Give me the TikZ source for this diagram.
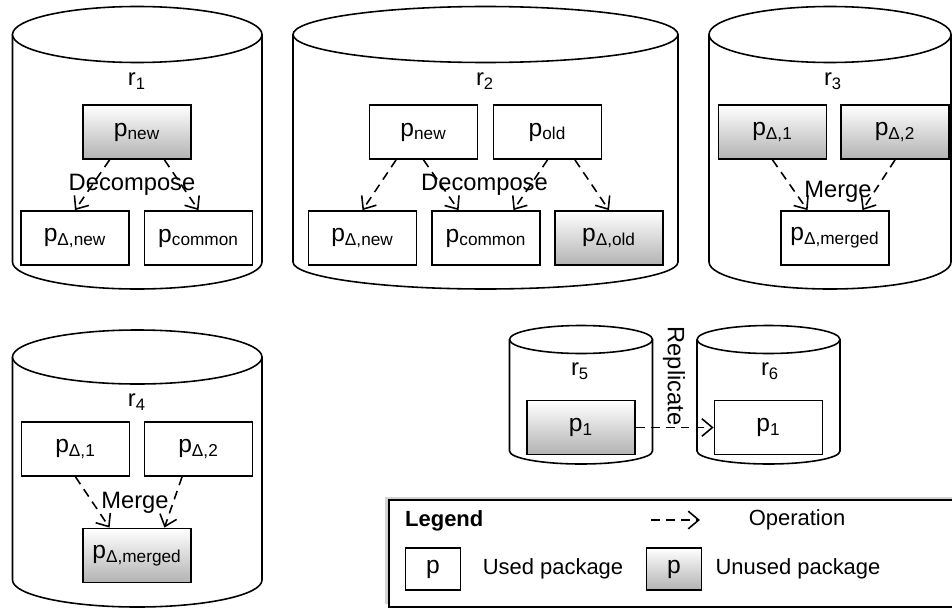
\documentclass[tikz,border=0pt]{standalone}
\usepackage{fontspec}
\setmainfont{Liberation Sans}
\usetikzlibrary{arrows.meta,calc,shadows}

\tikzset{
  repo/.style={draw, fill=white, line width=0.9pt},
  pkg/.style={draw, line width=1pt, minimum width=2.16cm, minimum height=1.08cm,
    inner sep=0pt, font=\fontsize{14}{16}\selectfont},
  used/.style={pkg, fill=white},
  unused/.style={pkg, top color=white, bottom color=black!30},
  keybox/.style={minimum width=1.1cm, minimum height=0.84cm},
  lbl/.style={font=\fontsize{13.5}{16}\selectfont},
  keytext/.style={font=\fontsize{12.5}{15}\selectfont},
  op/.style={draw, line width=0.9pt, dash pattern=on 5pt off 3.5pt,
    -{Straight Barb[length=6pt,width=10pt]}},
}

\begin{document}
\begin{tikzpicture}[x=0.02cm, y=-0.02cm]
    \useasboundingbox (0,0) rectangle (952,608);
    \clip (0,0) rectangle (952,608);

    % repositories
    \draw[repo] (12.5,34.5) -- (12.5,262) arc[start angle=180, end angle=0, x radius=124.75, y radius=27] -- (262,34.5);
    \draw[repo] (137.25,34.5) ellipse[x radius=124.75, y radius=28];
    \draw[repo] (293,34.5) -- (293,262) arc[start angle=180, end angle=0, x radius=192.5, y radius=27] -- (678,34.5);
    \draw[repo] (485.5,34.5) ellipse[x radius=192.5, y radius=28];
    \draw[repo] (709,34.5) -- (709,262) arc[start angle=180, end angle=0, x radius=121, y radius=27] -- (951,34.5);
    \draw[repo] (830,34.5) ellipse[x radius=121, y radius=28];
    \draw[repo] (12.5,357) -- (12.5,580) arc[start angle=180, end angle=0, x radius=124.75, y radius=27] -- (262,357);
    \draw[repo] (137.25,357) ellipse[x radius=124.75, y radius=27];
    \draw[repo] (509.5,339.5) -- (509.5,451) arc[start angle=180, end angle=0, x radius=71.5, y radius=13] -- (652.5,339.5);
    \draw[repo] (581,339.5) ellipse[x radius=71.5, y radius=14];
    \draw[repo] (697,339.5) -- (697,451) arc[start angle=180, end angle=0, x radius=71.5, y radius=13] -- (840,339.5);
    \draw[repo] (768.5,339.5) ellipse[x radius=71.5, y radius=14];

    \node[lbl] (r1) at (137,81) {r\textsubscript{1}};
    \node[lbl] (r2) at (485,81) {r\textsubscript{2}};
    \node[lbl] (r3) at (833,81) {r\textsubscript{3}};
    \node[lbl] (r4) at (137,402) {r\textsubscript{4}};
    \node[lbl] (r5) at (580,371) {r\textsubscript{5}};
    \node[lbl] (r6) at (770,371) {r\textsubscript{6}};

    % r1: decompose
    \node[unused] (n1new) at (137,132) {p\textsubscript{new}};
    \node[used] (n1dnew) at (75,238) {p\textsubscript{Δ,new}};
    \node[used] (n1com) at (198.5,238) {p\textsubscript{common}};
    \draw[op] ($(n1new.south west)!.25!(n1new.south east)$) -- (n1dnew.north);
    \draw[op] ($(n1new.south west)!.75!(n1new.south east)$) -- (n1com.north);
    \node[lbl] (dec1) at (132,185) {Decompose};

    % r2: decompose
    \node[used] (n2new) at (423.5,132) {p\textsubscript{new}};
    \node[used] (n2old) at (547.5,132) {p\textsubscript{old}};
    \node[used] (n2dnew) at (362.5,238) {p\textsubscript{Δ,new}};
    \node[used] (n2com) at (486,238) {p\textsubscript{common}};
    \node[unused] (n2dold) at (609,238) {p\textsubscript{Δ,old}};
    \draw[op] ($(n2new.south west)!.25!(n2new.south east)$) -- (n2dnew.north);
    \draw[op] (n2new.south) -- ($(n2com.north west)!.25!(n2com.north east)$);
    \draw[op] (n2old.south) -- ($(n2com.north west)!.75!(n2com.north east)$);
    \draw[op] ($(n2old.south west)!.75!(n2old.south east)$) -- (n2dold.north);
    \node[lbl] (dec2) at (484.5,185) {Decompose};

    % r3: merge
    \node[unused] (n3d1) at (772.5,132) {p\textsubscript{Δ,1}};
    \node[unused] (n3d2) at (895,132) {p\textsubscript{Δ,2}};
    \node[used] (n3mrg) at (835,238) {p\textsubscript{Δ,merged}};
    \draw[op] (n3d1.south) -- ($(n3mrg.north west)!.25!(n3mrg.north east)$);
    \draw[op] (n3d2.south) -- ($(n3mrg.north west)!.75!(n3mrg.north east)$);
    \node[lbl] (mrg3) at (838,192) {Merge};

    % r4: merge
    \node[used] (n4d1) at (75.5,449) {p\textsubscript{Δ,1}};
    \node[used] (n4d2) at (198.5,449) {p\textsubscript{Δ,2}};
    \node[unused] (n4mrg) at (137,555.5) {p\textsubscript{Δ,merged}};
    \draw[op] (n4d1.south) -- ($(n4mrg.north west)!.25!(n4mrg.north east)$);
    \draw[op] ($(n4d2.south west)!.35!(n4d2.south east)$) -- ($(n4mrg.north west)!.75!(n4mrg.north east)$);
    \node[lbl] (mrg4) at (135,503) {Merge};

    % r5 -> r6: replicate
    \node[unused] (n5p) at (581,427.5) {p\textsubscript{1}};
    \node[used] (n6p) at (768.5,427.5) {p\textsubscript{1}};
    \draw[op] (n5p.east) -- (n6p.west);
    \node[lbl, rotate=-90] (rep) at (674,376) {Replicate};

    % legend
    \node[draw, fill=white, line width=1pt, anchor=north west, minimum width=11.6cm, minimum height=2.14cm,
      drop shadow={shadow xshift=-2pt, shadow yshift=1.5pt, opacity=.35}] (legend) at (388,499) {};
    \node[keytext, font=\fontsize{12.5}{15}\selectfont\bfseries, anchor=west] (legtitle) at (399,521) {Legend};
    \coordinate (opa) at (651,520);
    \coordinate (opb) at (700,520);
    \draw[op] (opa) -- (opb);
    \node[keytext] (optext) at (797,520) {Operation};
    \node[used, keybox] (keyused) at (433,569) {p};
    \node[keytext] (usedtext) at (553,569) {Used package};
    \node[unused, keybox] (keyunused) at (674,569) {p};
    \node[keytext] (unusedtext) at (798,569) {Unused package};
\end{tikzpicture}
\end{document}
